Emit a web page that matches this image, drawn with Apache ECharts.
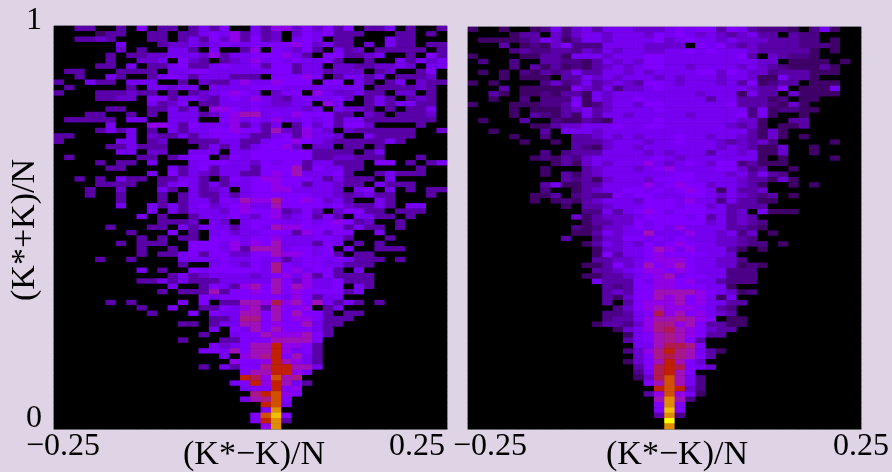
<!DOCTYPE html>
<html>
<head>
<meta charset="utf-8">
<style>html,body{margin:0;padding:0;background:#dfd3e6}#c{width:892px;height:472px}</style>
<script src="https://cdn.jsdelivr.net/npm/echarts@6/dist/echarts.min.js"></script>
</head>
<body>
<div id="c"></div>
<script>
// Each string is one row of the histogram from the top; each character is a colour level (hex digit) per bin.
const leftRows = [
"0033003060330353600 5377464636033503003",
"0000133003303356573 5340465633300033030",
"0033430003303536473 6340565033000533000",
"0000005000344545655 6566764533040533033",
"0000004030055306003 7065463053403333303",
"0000030334455547355 6667530663345003063",
"0000030044506430345 7565655630030053545",
"0000330503356335655 6366355044334454055",
"0330003333055665555 5566355344403400360",
"0030053003565355533 3066676035535033340",
"3005330555003043357 5576660660530350433",
"0300000305545505555 6665555555503333430",
"3000333433030345676 5046607544533044030",
"0000334406635543565 7543565564035303430",
"0000000005346033555 6544550750035355330",
"0000033003353507765 6555545054430303350",
"0003300303055534678 8565766633043033340",
"0333330550055500675 6575565635533333330",
"0000050007753655573 5350364636640000300",
"0000353503053556676 6384375404333333004",
"3300000504335356665 3356375540053333000",
"3000005503400333553 3566765433333530000",
"0000033533300035353 5667404403303000000",
"0000005504400555055 6666663333035000000",
"0300000033035660365 6666663344333000300",
"0000303305000566655 4656635533306603035",
"0000033000053563555 3666836553300000300",
"0000000005063543553 3676855563003533300",
"0030305330335530365 6776665353330500000",
"0000333300356535355 6676635543305333000",
"0003004000530534505 6677555540560503033",
"0003003000303533535 6666665543453300030",
"0000003000303553658 7796676453005300000",
"0000005005353564567 5586666564335305500",
"0000000005053555467 6673464046633033300",
"0000000050300355565 4674563630553303000",
"0000000000333405405 6665565676340030000",
"0000030003305355535 6587766663533030000",
"0000000300060305645 5666376466005000000",
"0000000030303306665 6675556653000300000",
"0000003033300666575 7685553650303000000",
"0000000030030666573 8885665605003330000",
"0000000030335636644 6687765630330000000",
"0000300300005555655 6563566565333030000",
"0000000000003005654 6596566553330000000",
"0000000050300656666 6596756630500000000",
"0000000000035345555 4567573633330000000",
"0000000033535333555 5586475563330000000",
"0000000000050036537 8686875560530000000",
"0000000000303338366 7686766663500000000",
"0000000000000065666 6665763550000000000",
"0000030300005060338 87a7868535303000000",
"0000000030050033657 8386670350000000000",
"0000000003000606558 8686866303300000000",
"0000000000000003359 9686776333000000000",
"0000000000003303558 8676685330000000000",
"0000000000000005065 8686665300000000000",
"0000000000000030056 6877786300000000000",
"0000000000003000336 6688886000000000000",
"0000000000000005456 88b7763000000000000",
"0000000000000056586 88b7563000000000000",
"0000000000000000507 89b6853000000000000",
"0000000000000000076 67b8753000000000000",
"0000000000000030536 69bb885000000000000",
"0000000000000000006 88bb750000000000000",
"000000000000000000b a7c8900000000000000",
"0000000000000000056 b7b8530000000000000",
"0000000000000000005 66b6700000000000000",
"0000000000000000000 9bc7600000000000000",
"0000000000000000005 89c6000000000000000",
"0000000000000000000 0bc5000000000000000",
"0000000000000000000 06d0000000000000000",
"0000000000000000000 6ce6000000000000000",
"0000000000000000000 6bd3000000000000000",
"0000000000000000000 07d0000000000000000"
];
const rightRows = [
"1001001252453555444 5656636532221025100",
"0000133042455455546 5654543453303220000",
"0111123541355455556 4565545444333220100",
"0003012146222555544 4406564343333222100",
"0000232233243545544 5565655543333310100",
"1000011331555455566 5555555630432210000",
"0200200332213545466 5555555554401111010",
"0000203131213454566 5545555454321113100",
"0101021323533554545 5556646544233311100",
"0001011103354545554 5455545541153310000",
"1010000242353454366 5455545361233011100",
"0003011111643524456 5555555543360111500",
"0031011213315455555 5554555153304111100",
"0010020222515455655 5555355333120110000",
"1000111223612455466 5555556333214100000",
"0000101113453455556 5555555525122110000",
"0000103213153554555 5545555625100100000",
"0100030021132155556 5555555441003300000",
"0000001134455565566 5555554341011300000",
"0010000305554555555 5555555531410000000",
"0000100200334545455 5655455431410100000",
"0000010010333455545 5655543434200000100",
"0000000000321455455 5555545431140010000",
"0000000202333555545 4555355451140010000",
"0000001213245555556 5455555551010000100",
"0000000013145455575 4565466231110000000",
"0000000100034555456 7555566423001000000",
"0000000103134555555 5665554535320000000",
"0000000003231455546 6665555433141000000",
"0000000351133555575 6766455431001010000",
"0000000200134556656 5676515334000000000",
"0000001130232265665 5566545432301000000",
"0000001012134555466 6575525331100000000",
"0000000001033455566 6566453333000000000",
"0000000000022535676 5666553405111000000",
"0000000000413444566 6656353430000000000",
"0000000000013344656 6666453432000000000",
"0000000000212445656 5755553321000000000",
"0000000000113545585 5575545240100000000",
"0000000003002446656 5655544320000000000",
"0000000000013545465 6765544322010000000",
"0000000000001445568 7575553101000000000",
"0000000000001635567 6666554000000000000",
"0000000000003344567 7765544200000000000",
"0000000000011364586 7865544121000000000",
"0000000000003345677 6765552220000000000",
"0000000000011334567 8566552220000000000",
"0000000000005333657 7675532220000000000",
"0000000000000323667 7666551000000000000",
"0000000000000343668 8887654120000000000",
"0000000000000314668 7867515000000000000",
"0000000000000303677 7867553300000000000",
"0000000000000024678 7776532000000000000",
"000000000000022356a 7867543000000000000",
"0000000000000233578 8987601100000000000",
"0000000000001332479 9786331100000000000",
"0000000000000014579 a876433000000000000",
"0000000000000001568 9876330000000000000",
"0000000000000003568 9863000000000000000",
"0000000000000000558 aa96000000000000000",
"0000000000000002479 b985310000000000000",
"0000000000000000469 a986300000000000000",
"0000000000000001468 b864000000000000000",
"000000000000000036a ba65400000000000000",
"000000000000000025a b860000000000000000",
"000000000000000014a c852000000000000000",
"0000000000000000068 c852000000000000000",
"000000000000000000b cb42000000000000000",
"0000000000000000037 c751000000000000000",
"0000000000000000008 d820000000000000000",
"0000000000000000006 d600000000000000000",
"0000000000000000006 e600000000000000000",
"0000000000000000003 d200000000000000000",
"0000000000000000000 f000000000000000000",
"0000000000000000000 d000000000000000000"
];
const levelColors = ["#000000","#3f0068","#4c0088","#5a00a8","#6a00d0","#7600f0","#8000ff","#9000e8","#a010b8","#a81888","#b01850","#c02000","#d05000","#e08c00","#f0c000","#ffff00"];
const xTickLabels = ["\u22120.25","0.25"];
const yTickLabels = ["1","0"];
const xTitle = "(K*\u2212K)/N";
const yTitle = "(K*+K)/N";

function cells(rows){
  const out=[];
  rows.forEach((r,y)=>{
    const s=r.replace(/ /g,'');
    for(let x=0;x<38;x++){
      out.push([x,y,parseInt(s.charAt(x)||'0',16)]);
    }
  });
  return out;
}
const xBins=Array.from({length:38},(_,i)=>i);
const yBins=Array.from({length:75},(_,i)=>i);
const font='"Liberation Serif"';
const line='#8a8a8a';
const xAxisOf=(g)=>({type:'category',gridIndex:g,data:xBins,position:'bottom',
  axisLabel:{show:false},axisLine:{show:true,onZero:false,lineStyle:{color:line,width:1}},
  axisTick:{show:true,inside:true,length:1,lineStyle:{color:line}},splitLine:{show:false}});
const yAxisOf=(g)=>({type:'category',gridIndex:g,data:yBins,inverse:true,
  axisLabel:{show:false},axisLine:{show:true,onZero:false,lineStyle:{color:line,width:1}},
  axisTick:{show:true,inside:true,length:1,lineStyle:{color:line}},splitLine:{show:false}});
const txt=(t,x,y,size,extra)=>Object.assign({type:'text',x:x,y:y,silent:true,
  style:{text:t,font:size+'px '+font,fill:'#000',textAlign:'center',textVerticalAlign:'middle'}},extra||{});

const chart=echarts.init(document.getElementById('c'),null,{renderer:'canvas'});
chart.setOption({
  animation:false,
  backgroundColor:'#dfd3e6',
  grid:[
    {left:54,top:26,width:393,height:403,show:true,backgroundColor:'#000',borderColor:line,borderWidth:1},
    {left:468,top:27,width:393,height:402,show:true,backgroundColor:'#000',borderColor:line,borderWidth:1}
  ],
  xAxis:[xAxisOf(0),xAxisOf(1)],
  yAxis:[yAxisOf(0),yAxisOf(1)],
  visualMap:{show:false,type:'continuous',min:0,max:15,seriesIndex:[0,1],inRange:{color:levelColors}},
  series:[
    {type:'heatmap',xAxisIndex:0,yAxisIndex:0,data:cells(leftRows),progressive:0,itemStyle:{borderWidth:0}},
    {type:'heatmap',xAxisIndex:1,yAxisIndex:1,data:cells(rightRows),progressive:0,itemStyle:{borderWidth:0}}
  ],
  graphic:[
    txt(yTickLabels[0],34,21,32),
    txt(yTickLabels[1],34,419,32),
    txt(xTickLabels[0],63,447,32),
    txt(xTickLabels[1],417,447,32),
    txt(xTickLabels[0],490,447,32),
    txt(xTickLabels[1],861,447,32),
    txt(xTitle,254,455,34),
    txt(xTitle,677,455,34),
    txt(yTitle,25,230,34,{rotation:Math.PI/2})
  ]
});
</script>
</body>
</html>
